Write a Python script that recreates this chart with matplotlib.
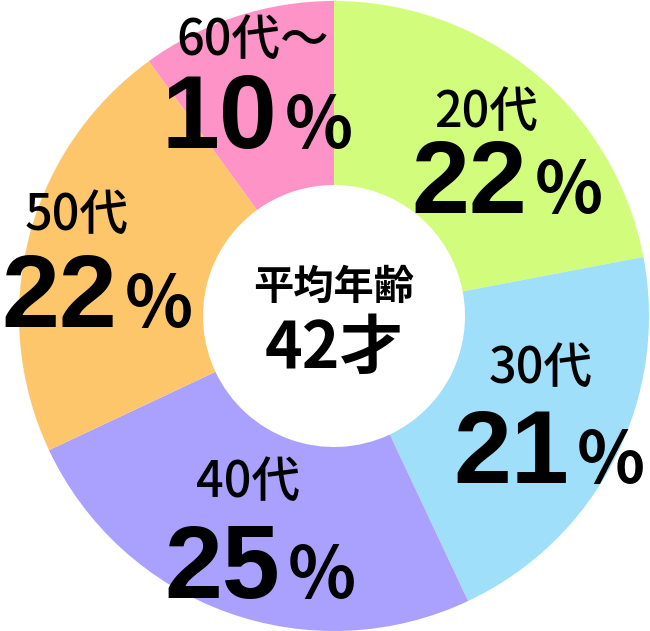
import matplotlib
matplotlib.use("Agg")
import matplotlib.pyplot as plt

# data
ages = ["20代", "30代", "40代", "50代", "60代～"]
shares = [22, 21, 25, 22, 10]
colors = ["#d2fd7c", "#9fdff9", "#a9a1fd", "#fec66b", "#fe93c8"]
center_title = "平均年齢"
center_value = "42才"

# label anchors in pixel coords (x, y from top)
label_pos = [(486, 127), (541, 383), (248, 497), (77, 230), (253, 55)]   # centre x, baseline
num_pos = [(527, 213), (569, 483), (280, 598), (117, 327), (277, 148)]   # number right x, baseline

W, H = 650, 631
plt.rcParams['font.family'] = ['Noto Sans CJK JP', 'DejaVu Sans']

fig = plt.figure(figsize=(W / 100, H / 100), dpi=100)
ax = fig.add_axes([0, 0, 1, 1])

cx, cy, r, r_in = 334, H - 316, 315, 131
ax.pie(shares, colors=colors, startangle=90, counterclock=False,
       center=(cx, cy), radius=r, wedgeprops=dict(width=r - r_in, linewidth=0))
ax.set_xlim(0, W)
ax.set_ylim(0, H)
ax.set_aspect('equal')
ax.axis('off')

for age, share, (lx, ly), (nx, ny) in zip(ages, shares, label_pos, num_pos):
    ax.text(lx, H - ly, age, ha='center', va='baseline', fontsize=35,
            fontweight='medium', color='black')
    # big numbers in a narrower bold face
    ax.text(nx, H - ny, str(share), ha='right', va='baseline', fontsize=75,
            fontweight='bold', family=['Liberation Sans', 'DejaVu Sans'],
            color='black')
    ax.text(nx + 8, H - ny, "%", ha='left', va='baseline', fontsize=51,
            fontweight='bold', color='black')

ax.text(cx, H - 287, center_title, ha='center', va='center', fontsize=29,
        fontweight='bold')
ax.text(cx, H - 349, center_value, ha='center', va='center', fontsize=46,
        fontweight='bold')

fig.savefig("out.png", dpi=100)
